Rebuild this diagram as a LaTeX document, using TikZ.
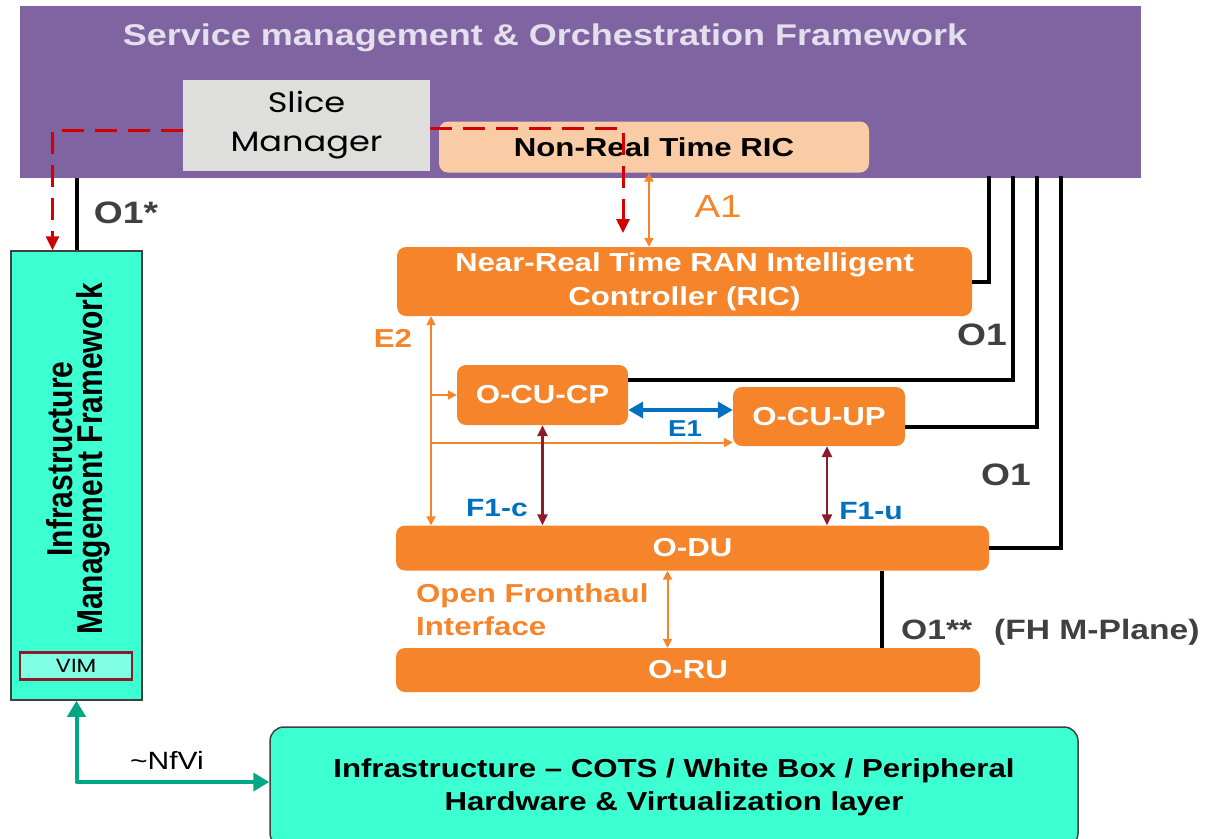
\documentclass[tikz,border=0pt]{standalone}
\usepackage{fontspec}
\setmainfont{Liberation Sans}[FakeStretch=1.2]
\newfontfamily\uprightfont{Liberation Sans}
\newfontfamily\roundfont{Poppins}[FakeStretch=1.2]
\usetikzlibrary{arrows.meta,calc,positioning}
\definecolor{orSmo}{HTML}{8064A2}
\definecolor{orLav}{HTML}{E4DFEC}
\definecolor{orSlice}{HTML}{DEDFDD}
\definecolor{orPeach}{HTML}{F9CCA6}
\definecolor{orRan}{HTML}{F5842B}
\definecolor{orAqua}{HTML}{3CFFD2}
\definecolor{orVim}{HTML}{80FFE4}
\definecolor{orWine}{HTML}{8C1C2A}
\definecolor{orBlue}{HTML}{0070C0}
\definecolor{orGray}{HTML}{404040}
\definecolor{orTeal}{HTML}{00A884}
\definecolor{orDash}{HTML}{D40000}
\newcommand{\fsz}[2]{\fontsize{#1}{#2}\selectfont}
\tikzset{
 oran/.style={line join=miter,inner sep=0pt},
 smobox/.style={rectangle,fill=orSmo},
 smotitle/.style={font=\bfseries\fsz{30}{30},text=orLav},
 slicebox/.style={rectangle,fill=orSlice,font=\roundfont\fsz{28}{39},align=center},
 nrtbox/.style={rectangle,rounded corners=9pt,fill=orPeach,font=\bfseries\fsz{26}{26}},
 ranbox/.style={rectangle,rounded corners=9pt,fill=orRan,text=white,font=\bfseries\fsz{26}{34},align=center},
 infbox/.style={rectangle,fill=orAqua,draw=orGray,line width=1.5pt,align=center},
 vimbox/.style={rectangle,fill=orVim,draw=orWine,line width=2.6pt,font=\roundfont\fsz{19}{19}},
 oone/.style={draw=black,line width=4pt},
 olabel/.style={font=\bfseries\fsz{31}{31},text=orGray},
 orlabel/.style={font=\bfseries\fsz{26}{33},text=orRan},
 bllabel/.style={font=\bfseries\fsz{25}{25},text=orBlue},
 ranarr/.style={draw=orRan,line width=2pt,{Triangle[length=9pt,width=9pt]}-{Triangle[length=9pt,width=9pt]}},
 ranone/.style={draw=orRan,line width=2pt,-{Triangle[length=9pt,width=9pt]}},
 e1arr/.style={draw=orBlue,line width=4.5pt,{Triangle[length=15pt,width=16pt]}-{Triangle[length=15pt,width=16pt]}},
 f1arr/.style={draw=orWine,line width=2.4pt,{Triangle[length=11pt,width=10pt]}-{Triangle[length=11pt,width=10pt]}},
 nfarr/.style={draw=orTeal,line width=4pt,line join=round,{Triangle[length=16pt,width=18pt]}-{Triangle[length=16pt,width=18pt]}},
 slicearr/.style={draw=orDash,line width=3pt,dash pattern=on 22pt off 11pt,-{Triangle[length=14pt,width=13pt]}}
}

\begin{document}
\begin{tikzpicture}[oran,x=1pt,y=-1pt]
 \useasboundingbox (0,0) rectangle (1214,838);
 % orchestration layer
 \node[smobox,minimum width=1121,minimum height=172] (smo) at (580.5,92) {};
 \node[smotitle] (smot) at (545,38) {Service management \& Orchestration Framework};
 \node[slicebox,minimum width=247,minimum height=91] (slice) at (306.5,125.5) {Slice\\Manager};
 \node[nrtbox,minimum width=430,minimum height=51] (nrt) at (654,147) {Non-Real Time RIC};
 % RAN functions
 \node[ranbox,minimum width=575,minimum height=69] (nrric) at (684.5,281.5) {Near-Real Time RAN Intelligent\\Controller (RIC)};
 \node[ranbox,minimum width=171,minimum height=60] (cucp) at (542.5,395) {O-CU-CP};
 \node[ranbox,minimum width=172,minimum height=59] (cuup) at (819,416.5) {O-CU-UP};
 \node[ranbox,minimum width=593,minimum height=45] (odu) at (692.5,548) {O-DU};
 \node[ranbox,minimum width=584,minimum height=44] (oru) at (688,670) {O-RU};
 % infrastructure
 \node[infbox,minimum width=131,minimum height=449] (imf) at (76.5,475.5) {};
 \node[rotate=90,font=\uprightfont\bfseries\fsz{30}{46},align=center] (imft) at (78,459)
   {\scalebox{1}[1.2]{\shortstack{Infrastructure\\Management Framework}}};
 \node[vimbox,minimum width=112,minimum height=27] (vim) at (76,666) {VIM};
 \node[infbox,rounded corners=14pt,minimum width=808,minimum height=120,font=\bfseries\fsz{26}{33}] (hw) at (674,787)
   {Infrastructure -- COTS / White Box / Peripheral\\Hardware \& Virtualization layer};
 % O1 bundle
 \coordinate (o1a) at (989,176); \coordinate (o1b) at (1013,176);
 \coordinate (o1c) at (1037,176); \coordinate (o1d) at (1061,176);
 \draw[oone] (nrric.east) -| (o1a);
 \draw[oone] ([yshift=15pt]cucp.east) -| (o1b);
 \draw[oone] ([yshift=-10pt]cuup.east) -| (o1c);
 \draw[oone] (odu.east) -| (o1d);
 \draw[oone] (imf.north) -- (imf.north |- smo.south);
 \coordinate (fh) at (882,0);
 \draw[oone] (odu.south -| fh) -- (oru.north -| fh);
 % interfaces
 \coordinate (a1) at (649,0); \coordinate (e2) at (431,0);
 \draw[ranarr] (nrt.south -| a1) -- (nrric.north -| a1);
 \draw[ranarr] (nrric.south -| e2) -- (odu.north -| e2);
 \draw[ranone] (cucp.west -| e2) -- (cucp.west);
 \draw[ranone] ([yshift=-26pt]cuup.west -| e2) -- ([yshift=-26pt]cuup.west);
 \draw[e1arr] ([yshift=-15pt]cucp.east) -- ([yshift=-15pt]cucp.east -| cuup.west);
 \draw[f1arr] (cucp.south) -- (cucp.south |- odu.north);
 \draw[f1arr] ([xshift=8pt]cuup.south) -- ([xshift=8pt]cuup.south |- odu.north);
 \draw[ranarr] ([xshift=-25pt]odu.south) -- ([xshift=-25pt]odu.south |- oru.north);
 \draw[nfarr] (imf.south) |- ([yshift=5pt]hw.west);
 % slice manager links
 \coordinate (sltip) at (623,233);
 \draw[slicearr] ([yshift=-5pt]slice.west) -| ([xshift=-24pt]imf.north);
 \draw[slicearr] ([yshift=-2.5pt]slice.east) -| (sltip);
 % labels
 \node[olabel] (lo1s) at (126,213) {O1*};
 \node[olabel] (lo1a) at (982,335) {O1};
 \node[olabel] (lo1b) at (1006,475) {O1};
 \node[olabel,font=\bfseries\fsz{28}{28},anchor=west] (lo1m) at (901,632) {O1**\hspace{22pt}(FH M-Plane)};
 \node[font=\fsz{32}{32},text=orRan] (la1) at (718,206) {A1};
 \node[orlabel] (le2) at (393,338) {E2};
 \node[bllabel,font=\bfseries\fsz{23}{23}] (le1) at (685,429) {E1};
 \node[bllabel] (lf1c) at (497,508) {F1-c};
 \node[bllabel] (lf1u) at (871,511) {F1-u};
 \node[orlabel,align=left,anchor=west] (lfh) at (416,609.5) {Open Fronthaul\\Interface};
 \node[font=\fsz{25}{25}] (lnf) at (167,760) {\textasciitilde NfVi};
\end{tikzpicture}
\end{document}
